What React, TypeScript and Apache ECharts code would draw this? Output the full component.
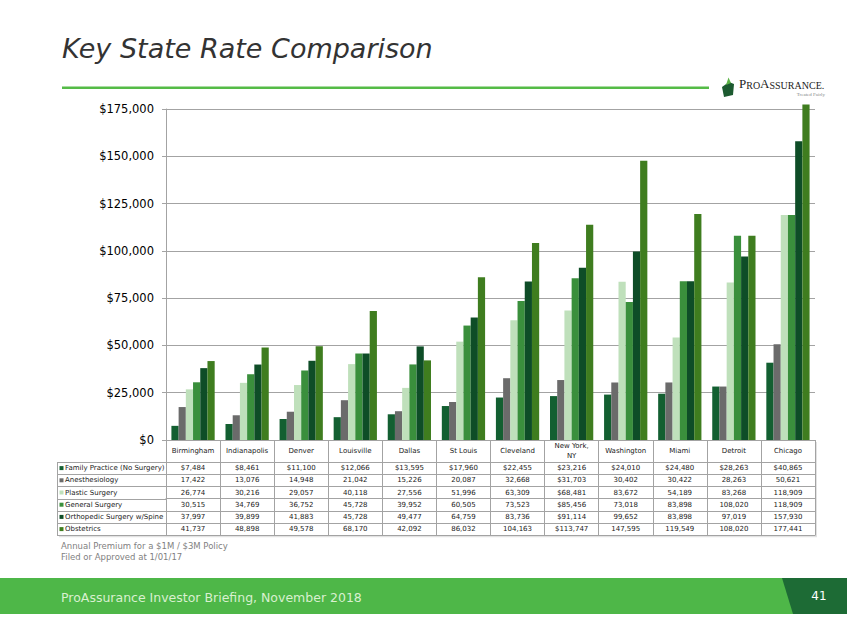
import React, { useEffect, useRef } from "react";
import * as echarts from "echarts";

const categories = [
  "Birmingham", "Indianapolis", "Denver", "Louisville", "Dallas", "St Louis",
  "Cleveland", "New York,\nNY", "Washington", "Miami", "Detroit", "Chicago",
];

const seriesNames = [
  "Family Practice (No Surgery)",
  "Anesthesiology",
  "Plastic Surgery",
  "General Surgery",
  "Orthopedic Surgery w/Spine",
  "Obstetrics",
];

const familyPractice = [7484, 8461, 11100, 12066, 13595, 17960, 22455, 23216, 24010, 24480, 28263, 40865];
const anesthesiology = [17422, 13076, 14948, 21042, 15226, 20087, 32668, 31703, 30402, 30422, 28263, 50621];
const plasticSurgery = [26774, 30216, 29057, 40118, 27556, 51996, 63309, 68481, 83672, 54189, 83268, 118909];
const generalSurgery = [30515, 34769, 36752, 45728, 39952, 60505, 73523, 85456, 73018, 83898, 108020, 118909];
const orthopedicSpine = [37997, 39899, 41883, 45728, 49477, 64759, 83736, 91114, 99652, 83898, 97019, 157930];
const obstetrics = [41737, 48898, 49578, 68170, 42092, 86032, 104163, 113747, 147595, 119549, 108020, 177441];

const seriesValues = [familyPractice, anesthesiology, plasticSurgery, generalSurgery, orthopedicSpine, obstetrics];
const seriesColors = ["#135f31", "#6b6b6b", "#bfe0bb", "#3a8f3c", "#0e4d27", "#3f7d1f"];

// table cells shown with a "$" sign
const dollarRows = [0];
const dollarCategories = ["New York,\nNY"];

const yTicks = { min: 0, max: 175000, interval: 25000 };

const fmt = (v: number) => v.toLocaleString("en-US");

const FONT = '"DejaVu Sans", Verdana, sans-serif';
const BORDER = "#a3a3a3";

export default function App() {
  const ref = useRef<HTMLDivElement>(null);

  useEffect(() => {
    if (!ref.current) return;
    const chart = echarts.init(ref.current, null, { renderer: "svg" });

    const gridLeft = 166;
    const gridRight = 52;
    const gridTop = 109;
    const gridBottom = 195;
    const axisY = 635 - gridBottom; // 440
    const headerH = 22;
    const rowH = 12.2;
    const tableLeft = 57;

    const rowAxes = seriesNames.map((_, r) => ({
      type: "category",
      data: categories,
      gridIndex: 0,
      position: "bottom",
      offset: headerH + rowH * r,
      axisLine: { show: true, lineStyle: { color: BORDER, width: 1 } },
      axisTick: { show: false },
      splitLine: { show: false },
      axisLabel: {
        show: true,
        interval: 0,
        margin: rowH / 2,
        verticalAlign: "middle",
        fontSize: 7,
        fontFamily: FONT,
        color: "#1a1a1a",
        formatter: (_v: string, idx: number) => {
          const v = seriesValues[r][idx];
          const dollar = dollarRows.includes(r) || dollarCategories.includes(categories[idx]);
          return (dollar ? "$" : "") + fmt(v);
        },
      },
    }));

    const bottomBorderAxis = {
      type: "category",
      data: categories,
      gridIndex: 0,
      position: "bottom",
      offset: headerH + rowH * seriesNames.length,
      axisLine: { show: true, lineStyle: { color: BORDER, width: 1 } },
      axisTick: { show: false },
      axisLabel: { show: false },
      splitLine: { show: false },
    };

    const tableBottom = axisY + headerH + rowH * seriesNames.length;

    const leftColumn: any[] = [];
    // shadow of table
    leftColumn.push({
      type: "rect",
      shape: { x: tableLeft + 2, y: axisY + headerH + 2, width: 867 - gridRight - tableLeft, height: rowH * seriesNames.length },
      style: { fill: "#e2e2e2" },
      z: -10,
    });
    leftColumn.push({
      type: "rect",
      shape: { x: gridLeft + 2, y: axisY + 2, width: 867 - gridRight - gridLeft, height: headerH },
      style: { fill: "#e2e2e2" },
      z: -10,
    });
    leftColumn.push({
      type: "rect",
      shape: { x: tableLeft, y: axisY + headerH, width: 867 - gridRight - tableLeft, height: rowH * seriesNames.length },
      style: { fill: "#ffffff" },
      z: -9,
    });
    leftColumn.push({
      type: "rect",
      shape: { x: gridLeft, y: axisY, width: 867 - gridRight - gridLeft, height: headerH },
      style: { fill: "#ffffff" },
      z: -9,
    });
    leftColumn.push({
      type: "line",
      shape: { x1: tableLeft + 0.5, y1: axisY + headerH, x2: tableLeft + 0.5, y2: tableBottom },
      style: { stroke: BORDER, lineWidth: 1 },
    });
    for (let r = 0; r <= seriesNames.length; r++) {
      const y = Math.round(axisY + headerH + rowH * r) + 0.5;
      leftColumn.push({
        type: "line",
        shape: { x1: tableLeft, y1: y, x2: gridLeft, y2: y },
        style: { stroke: BORDER, lineWidth: 1 },
      });
    }
    seriesNames.forEach((name, r) => {
      const cy = axisY + headerH + rowH * r + rowH / 2;
      leftColumn.push({
        type: "rect",
        shape: { x: tableLeft + 2.5, y: cy - 2, width: 4, height: 4 },
        style: { fill: seriesColors[r] },
      });
      leftColumn.push({
        type: "text",
        style: {
          text: name,
          x: tableLeft + 8,
          y: cy,
          font: `7px ${FONT}`,
          fill: "#1a1a1a",
          textVerticalAlign: "middle",
          verticalAlign: "middle",
        },
      });
    });

    const decorations: any[] = [
      {
        type: "text",
        style: {
          text: "Key State Rate Comparison",
          x: 62,
          y: 48,
          font: `italic 27px ${FONT}`,
          fill: "#333333",
          textVerticalAlign: "middle",
          verticalAlign: "middle",
        },
      },
      {
        type: "rect",
        shape: { x: 62, y: 86.5, width: 647, height: 2.5 },
        style: { fill: "#55bb47" },
      },
      // logo
      {
        type: "polygon",
        shape: { points: [[722, 87], [729, 82], [734, 84], [733, 95], [724, 97]] },
        style: { fill: "#1c5a30" },
      },
      {
        type: "polygon",
        shape: { points: [[726, 85], [728.5, 77.5], [731, 83]] },
        style: { fill: "#5cb446" },
      },
      {
        type: "text",
        style: {
          text: "{b|P}{s|RO}{b|A}{s|SSURANCE.}",
          x: 739,
          y: 90,
          textVerticalAlign: "bottom",
          verticalAlign: "bottom",
          rich: {
            b: { font: '13px "Liberation Serif", serif', fill: "#222", color: "#222", verticalAlign: "bottom" },
            s: { font: '10px "Liberation Serif", serif', fill: "#222", color: "#222", verticalAlign: "bottom" },
          },
        },
      },
      {
        type: "text",
        style: {
          text: "Treated Fairly",
          x: 825,
          y: 94.5,
          font: '5px "Liberation Serif", serif',
          fill: "#888",
          textAlign: "right",
          align: "right",
          textVerticalAlign: "middle",
          verticalAlign: "middle",
        },
      },
      // notes
      {
        type: "text",
        style: {
          text: "Annual Premium for a $1M / $3M Policy",
          x: 61,
          y: 546,
          font: `8.5px ${FONT}`,
          fill: "#7f7f7f",
          textVerticalAlign: "middle",
          verticalAlign: "middle",
        },
      },
      {
        type: "text",
        style: {
          text: "Filed or Approved at 1/01/17",
          x: 61,
          y: 557,
          font: `8.5px ${FONT}`,
          fill: "#7f7f7f",
          textVerticalAlign: "middle",
          verticalAlign: "middle",
        },
      },
      // footer
      {
        type: "rect",
        shape: { x: 0, y: 578, width: 847, height: 36 },
        style: { fill: "#4eb748" },
      },
      {
        type: "polygon",
        shape: { points: [[782, 578], [847, 578], [847, 614], [793, 614]] },
        style: { fill: "#1d6b35" },
      },
      {
        type: "text",
        style: {
          text: "ProAssurance Investor Briefing, November 2018",
          x: 61,
          y: 597,
          font: `12.5px ${FONT}`,
          fill: "#d9f0d0",
          textVerticalAlign: "middle",
          verticalAlign: "middle",
        },
      },
      {
        type: "text",
        style: {
          text: "41",
          x: 819,
          y: 596,
          font: `12px ${FONT}`,
          fill: "#ffffff",
          textAlign: "center",
          align: "center",
          textVerticalAlign: "middle",
          verticalAlign: "middle",
        },
      },
    ];

    chart.setOption({
      animation: false,
      backgroundColor: "#ffffff",
      grid: { left: gridLeft, right: gridRight, top: gridTop, bottom: gridBottom },
      xAxis: [
        {
          type: "category",
          data: categories,
          position: "bottom",
          axisLine: { show: true, lineStyle: { color: BORDER, width: 1 } },
          axisTick: {
            show: true,
            interval: 0,
            alignWithLabel: false,
            length: headerH + rowH * seriesNames.length,
            lineStyle: { color: BORDER, width: 1 },
          },
          axisLabel: {
            interval: 0,
            margin: headerH / 2,
            verticalAlign: "middle",
            fontSize: 7,
            lineHeight: 10,
            fontFamily: FONT,
            color: "#1a1a1a",
          },
          splitLine: { show: false },
        },
        ...rowAxes,
        bottomBorderAxis,
      ],
      yAxis: {
        type: "value",
        min: yTicks.min,
        max: yTicks.max,
        interval: yTicks.interval,
        axisLine: { show: true, lineStyle: { color: BORDER, width: 1 } },
        axisTick: { show: true, length: 4, lineStyle: { color: BORDER } },
        axisLabel: {
          margin: 12,
          fontSize: 11.5,
          fontFamily: FONT,
          color: "#000000",
          formatter: (v: number) => "$" + fmt(v),
        },
        splitLine: { show: true, lineStyle: { color: BORDER, width: 1 } },
      },
      series: seriesNames.map((name, i) => ({
        name,
        type: "bar",
        xAxisIndex: 0,
        data: seriesValues[i],
        barGap: "0%",
        barCategoryGap: "20%",
        clip: false,
        itemStyle: { color: seriesColors[i] },
      })),
      graphic: [...leftColumn, ...decorations],
    });

    return () => chart.dispose();
  }, []);

  return (
    <div
      ref={ref}
      style={{ position: "fixed", left: 0, top: 0, width: 867, height: 635, background: "#fff" }}
    />
  );
}
